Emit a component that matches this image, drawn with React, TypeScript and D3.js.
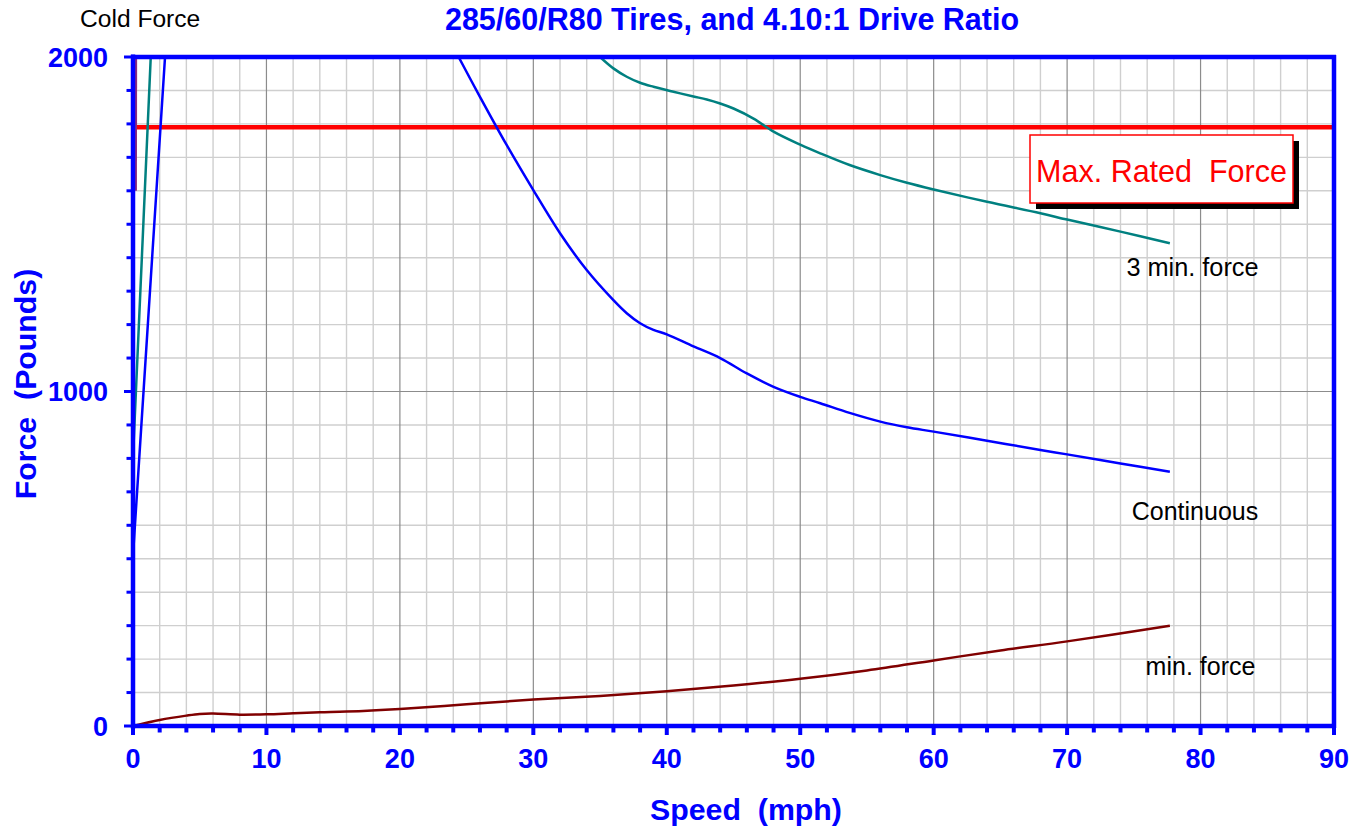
import React from "react";
import * as d3 from "d3";

type P = [number, number];

// ---- data ----
const xTickValues = [0, 10, 20, 30, 40, 50, 60, 70, 80, 90];
const yTickLabels = [0, 1000, 2000];
const maxRatedForce = 1790;

const continuous: P[] = [
  [24.4, 2000], [26, 1881], [28, 1737], [30, 1602], [32, 1473], [34, 1363],
  [36, 1273], [37, 1234], [38, 1204], [39, 1184], [40, 1171], [42, 1135],
  [44, 1100], [46, 1054], [48, 1014], [50, 984], [51.5, 965], [53.7, 936],
  [56, 910], [58, 893], [60, 880], [64, 853], [68, 825], [70, 812],
  [74, 785], [77.7, 760],
];
const continuousStart: P[] = [[0, 510], [2.4, 2000], [2.5, 2060]];

const threeMin: P[] = [
  [35.0, 2000], [36, 1966], [37, 1941], [38, 1923], [39, 1911], [40.5, 1896],
  [42, 1882], [43, 1873], [44, 1861], [45, 1846], [46.5, 1816], [48, 1777],
  [50, 1738], [51.5, 1712], [53.7, 1677], [56, 1647], [58, 1624], [60, 1604],
  [64, 1567], [68, 1533], [70, 1514], [74, 1478], [77.7, 1443],
];
const threeMinStart: P[] = [[0, 803], [1.33, 2000], [1.4, 2060]];

const coldForce: P[] = [[0.2, 1600], [0.22, 2060]];

const minForce: P[] = [
  [0, 0], [2, 18], [4, 31], [5, 36], [6, 37], [8, 34], [10, 35], [12, 38],
  [14, 41], [16, 43], [20, 51], [25, 65], [30, 79], [35, 90], [40, 104],
  [45, 121], [50, 141], [55, 166], [60, 196], [65, 226], [70, 253], [77.7, 300],
];

const FONT = "'Liberation Sans', Arial, Helvetica, sans-serif";
const BLUE = "#0000ff";

export default function App() {
  const W = 1364, H = 828;
  const x = d3.scaleLinear().domain([0, 90]).range([133, 1334]);
  const y = d3.scaleLinear().domain([0, 2000]).range([726, 57]);

  const smooth = d3.line<P>().x(d => x(d[0])).y(d => y(d[1])).curve(d3.curveCatmullRom.alpha(0.5));
  const straight = d3.line<P>().x(d => x(d[0])).y(d => y(d[1]));

  const minorX = d3.range(0, 91, 2).filter(v => v % 10 !== 0);
  const majorX = d3.range(10, 90, 10);
  const minorY = d3.range(100, 2000, 100).filter(v => v % 1000 !== 0);
  const majorY = [1000];
  const yTicks = d3.range(0, 2001, 100);
  const xTicks = d3.range(0, 91, 2);

  const [x0, x1] = x.range();
  const [y0, y1] = y.range();

  return (
    <div style={{ position: "absolute", left: 0, top: 0 }}>
      <svg width={W} height={H} style={{ display: "block", background: "#fff" }}>
        <defs>
          <clipPath id="plot">
            <rect x={x0} y={y1} width={x1 - x0} height={y0 - y1} />
          </clipPath>
        </defs>
        <rect width={W} height={H} fill="#fff" />

        {/* grid */}
        {minorX.map(v => (
          <line key={"mx" + v} x1={x(v)} x2={x(v)} y1={y1} y2={y0} stroke="#cfcfcf" strokeWidth={1.4} />
        ))}
        {minorY.map(v => (
          <line key={"my" + v} x1={x0} x2={x1} y1={y(v)} y2={y(v)} stroke="#cfcfcf" strokeWidth={1.4} />
        ))}
        {majorX.map(v => (
          <line key={"Mx" + v} x1={x(v)} x2={x(v)} y1={y1} y2={y0} stroke="#8c8c8c" strokeWidth={1.2} />
        ))}
        {majorY.map(v => (
          <line key={"My" + v} x1={x0} x2={x1} y1={y(v)} y2={y(v)} stroke="#8c8c8c" strokeWidth={1.2} />
        ))}

        {/* max rated force line */}
        <line x1={x0} x2={x1} y1={y(maxRatedForce)} y2={y(maxRatedForce)} stroke="#ff0000" strokeWidth={4.3} />

        {/* curves */}
        <g clipPath="url(#plot)" fill="none">
          <path d={straight(coldForce) || ""} stroke="#8b2a7e" strokeWidth={2.5} />
          <path d={straight(threeMinStart) || ""} stroke="#008080" strokeWidth={2.5} />
          <path d={straight(continuousStart) || ""} stroke={BLUE} strokeWidth={2.5} />
          <path d={smooth(threeMin) || ""} stroke="#008080" strokeWidth={2.5} />
          <path d={smooth(continuous) || ""} stroke={BLUE} strokeWidth={2.5} />
          <path d={smooth(minForce) || ""} stroke="#800000" strokeWidth={2.5} />
        </g>

        {/* legend box */}
        <rect x={1036} y={141} width={263} height={68} fill="#000" />
        <rect x={1030} y={135} width={263} height={68} fill="#fff" stroke="#ff0000" strokeWidth={1.5} />
        <text x={1161.5} y={182} textAnchor="middle" fill="#ff0000" fontFamily={FONT} fontSize={30.5} style={{ whiteSpace: "pre" }}>
          {"Max. Rated  Force"}
        </text>

        {/* series labels */}
        <text x={1192.5} y={276} textAnchor="middle" fill="#000" fontFamily={FONT} fontSize={25.3}>3 min. force</text>
        <text x={1195} y={520} textAnchor="middle" fill="#000" fontFamily={FONT} fontSize={25}>Continuous</text>
        <text x={1200.5} y={675} textAnchor="middle" fill="#000" fontFamily={FONT} fontSize={25}>min. force</text>
        <text x={80} y={27} fill="#000" fontFamily={FONT} fontSize={24.6}>Cold Force</text>

        {/* title */}
        <text x={732} y={30} textAnchor="middle" fill={BLUE} fontFamily={FONT} fontSize={30.5} fontWeight="bold">
          285/60/R80 Tires, and 4.10:1 Drive Ratio
        </text>

        {/* ticks */}
        {yTicks.map(v => (
          <line key={"yt" + v} x1={x0 - (v % 1000 === 0 ? 9 : 6.5)} x2={x0} y1={y(v)} y2={y(v)} stroke={BLUE} strokeWidth={3} />
        ))}
        {xTicks.map(v => (
          <line key={"xt" + v} x1={x(v)} x2={x(v)} y1={y0} y2={y0 + (v % 10 === 0 ? 9 : 6.5)} stroke={BLUE} strokeWidth={4} />
        ))}

        {/* axes / frame */}
        <line x1={x0} x2={x0} y1={y1 - 2.5} y2={y0 + 2.5} stroke={BLUE} strokeWidth={4.5} />
        <line x1={x0 - 2} x2={x1 + 2} y1={y0} y2={y0} stroke={BLUE} strokeWidth={4.5} />
        <line x1={x0 - 2} x2={x1 + 2} y1={y1} y2={y1} stroke={BLUE} strokeWidth={4.5} />
        <line x1={x1} x2={x1} y1={y1 - 2} y2={y0 + 2} stroke={BLUE} strokeWidth={4.5} />

        {/* tick labels */}
        {yTickLabels.map(v => (
          <text key={"yl" + v} x={108} y={y(v) + 9.5} textAnchor="end" fill={BLUE} fontFamily={FONT} fontSize={27} fontWeight="bold">
            {v}
          </text>
        ))}
        {xTickValues.map(v => (
          <text key={"xl" + v} x={x(v)} y={768} textAnchor="middle" fill={BLUE} fontFamily={FONT} fontSize={27} fontWeight="bold">
            {v}
          </text>
        ))}

        {/* axis titles */}
        <text x={746} y={820} textAnchor="middle" fill={BLUE} fontFamily={FONT} fontSize={30.3} fontWeight="bold" style={{ whiteSpace: "pre" }}>
          {"Speed  (mph)"}
        </text>
        <text transform="translate(36,384) rotate(-90)" textAnchor="middle" fill={BLUE} fontFamily={FONT} fontSize={30.3} fontWeight="bold" style={{ whiteSpace: "pre" }}>
          {"Force  (Pounds)"}
        </text>
      </svg>
    </div>
  );
}
